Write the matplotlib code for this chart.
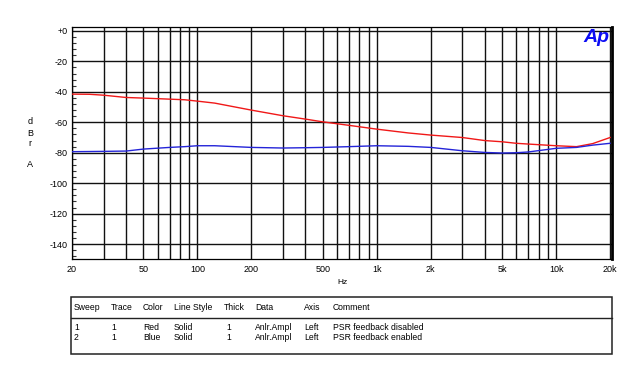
import matplotlib.pyplot as plt
import numpy as np
from matplotlib.patches import Rectangle

# data
freq = [20, 25, 30, 40, 50, 70, 85, 100, 125, 200, 300, 400, 500, 700,
        1000, 1500, 2000, 3000, 4000, 5000, 6000, 7000, 10000, 13000, 16000, 20000]
psr_disabled = [-41.5, -41.6, -42.2, -43.7, -44.1, -44.8, -45.2, -46.1, -47.4, -52.0,
                -55.7, -57.9, -59.7, -62.0, -64.5, -67.0, -68.4, -70.0, -72.0, -72.8,
                -73.8, -74.3, -75.4, -76.0, -74.0, -70.0]
psr_enabled = [-79.3, -79.2, -79.1, -78.9, -77.6, -76.5, -76.0, -75.4, -75.4, -76.5,
               -76.9, -76.7, -76.5, -76.0, -75.4, -75.8, -76.5, -78.7, -79.8, -80.2,
               -80.0, -79.5, -77.1, -76.5, -75.0, -73.8]

xticks = [20, 50, 100, 200, 500, 1000, 2000, 5000, 10000, 20000]
xticklabels = ['20', '50', '100', '200', '500', '1k', '2k', '5k', '10k', '20k']
yticks = [0, -20, -40, -60, -80, -100, -120, -140]
yticklabels = ['+0', '-20', '-40', '-60', '-80', '-100', '-120', '-140']

table_cols = ['Sweep', 'Trace', 'Color', 'Line Style', 'Thick', 'Data', 'Axis', 'Comment']
table_rows = [['1', '1', 'Red', 'Solid', '1', 'Anlr.Ampl', 'Left', 'PSR feedback disabled'],
              ['2', '1', 'Blue', 'Solid', '1', 'Anlr.Ampl', 'Left', 'PSR feedback enabled']]

W, H = 628, 372
plt.rcParams['font.family'] = ['Liberation Sans', 'DejaVu Sans']
fig = plt.figure(figsize=(W / 100, H / 100), dpi=100)


def fx(x):
    return x / W


def fy(y):
    return 1 - y / H


ax = fig.add_axes([fx(72), fy(259.3), fx(612) - fx(72), fy(27.3) - fy(259.3)])
ax.set_xscale('log')
ax.set_xlim(20, 20500)
ax.set_ylim(-150, 2.4)

# grid
vlines = [f for dec in [10, 100, 1000, 10000] for f in np.arange(1, 10) * dec if 20 <= f <= 20000]
for f in vlines:
    ax.axvline(f, color='#111111', lw=1.0, zorder=1)
for v in yticks:
    ax.axhline(v, color='#111111', lw=1.0, zorder=1)

ax.plot(freq, psr_disabled, color='#f01818', lw=1.0, zorder=3)
ax.plot(freq, psr_enabled, color='#2424d8', lw=1.0, zorder=3)

ax.set_xticks(xticks)
ax.set_xticklabels(xticklabels)
ax.xaxis.set_minor_locator(plt.NullLocator())
ax.tick_params(axis='x', length=0, labelsize=6.5, pad=4)
ax.set_yticks(yticks)
ax.set_yticklabels(yticklabels)
ax.set_yticks(np.arange(-148, 2, 4), minor=True)
ax.tick_params(axis='y', which='major', length=0, labelsize=6.5, pad=3)
ax.tick_params(axis='y', which='minor', direction='in', length=3, width=0.8, color='#333')

for s in ['left', 'top', 'bottom']:
    ax.spines[s].set_linewidth(0.9)
ax.spines['right'].set_linewidth(2.0)

fig.text(fx(342), fy(282), 'Hz', fontsize=6, ha='center', va='center')
for ch, yy in zip(['d', 'B', 'r', 'A'], [122, 133, 143, 164]):
    fig.text(fx(30), fy(yy), ch, fontsize=6.5, ha='center', va='center')

fig.text(fx(609), fy(37), 'Ap', fontsize=14, fontweight='bold', style='italic',
         color='#0c0cf4', ha='right', va='center')

# sweep table
fig.patches.append(Rectangle((fx(71), fy(354)), fx(612) - fx(71), fy(297) - fy(354),
                             transform=fig.transFigure, fill=False, lw=1.1, ec='#222'))
fig.lines.append(plt.Line2D([fx(71), fx(612)], [fy(318), fy(318)],
                            transform=fig.transFigure, color='#222', lw=1.0))
col_x = [74, 111, 143, 174, 224, 255, 304, 333]
row_x = [74, 111, 143, 174, 226, 255, 304, 333]
for cx, txt in zip(col_x, table_cols):
    fig.text(fx(cx), fy(307.5), txt, fontsize=6.2, ha='left', va='center')
for ry, row in zip([328, 337.5], table_rows):
    for cx, txt in zip(row_x, row):
        fig.text(fx(cx), fy(ry), txt, fontsize=6.2, ha='left', va='center')

fig.savefig('out.png', dpi=100)
